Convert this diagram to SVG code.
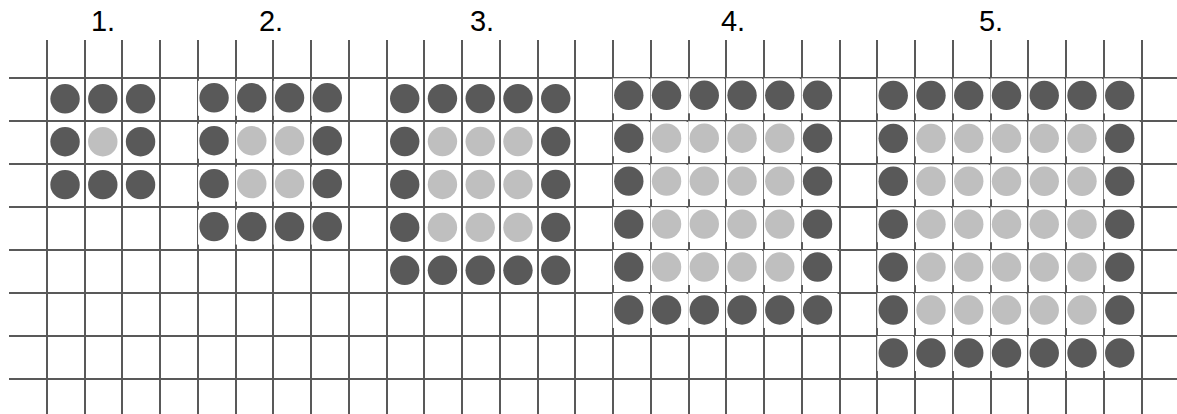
<svg xmlns="http://www.w3.org/2000/svg" xmlns:xlink="http://www.w3.org/1999/xlink" width="1177" height="414" viewBox="0 0 1177 414">
<style>
.grid{stroke:#595959;stroke-width:2;fill:none}
.lbl{font-family:"Liberation Sans",Arial,sans-serif;font-size:29px;fill:#000;text-anchor:middle}
.d{fill:#595959}
.l{fill:#bfbfbf}
.bg{fill:#fff}
</style>
<defs>
<circle id="dk" class="d" r="14.7"/>
<circle id="lt" class="l" r="14.7"/>
<rect id="wb" class="bg" x="-16" y="-17" width="36" height="35"/>
</defs>
<rect width="1177" height="414" fill="#fff"/>
<g id="labels">
<text class="lbl" x="103" y="31">1.</text>
<text class="lbl" x="271" y="31">2.</text>
<text class="lbl" x="482" y="31">3.</text>
<text class="lbl" x="733" y="31">4.</text>
<text class="lbl" x="991" y="31">5.</text>
</g>
<g id="grid">
<path class="grid" d="M47 40V414M85 40V414M122 40V414M160 40V414M198 40V414M236 40V414M273 40V414M311 40V414M349 40V414M387 40V414M424 40V414M462 40V414M500 40V414M538 40V414M575 40V414M613 40V414M651 40V414M689 40V414M726 40V414M764 40V414M802 40V414M840 40V414M877 40V414M915 40V414M953 40V414M991 40V414M1028 40V414M1066 40V414M1104 40V414M1142 40V414"/>
<path class="grid" d="M9 78H1177M9 121H1177M9 164H1177M9 207H1177M9 250H1177M9 293H1177M9 336H1177M9 379H1177"/>
</g>
<g id="fig1" transform="translate(65.05 98.8)">
<use href="#dk" x="0" y="0"/><use href="#dk" x="37.75" y="0"/><use href="#dk" x="75.5" y="0"/>
<use href="#dk" x="0" y="42.93"/><use href="#lt" x="37.75" y="42.93"/><use href="#dk" x="75.5" y="42.93"/>
<use href="#dk" x="0" y="85.86"/><use href="#dk" x="37.75" y="85.86"/><use href="#dk" x="75.5" y="85.86"/>
</g>
<g id="fig2" transform="translate(214.05 97.8)">
<g>
<use href="#wb" x="0" y="0"/><use href="#wb" x="37.75" y="0"/><use href="#wb" x="75.5" y="0"/><use href="#wb" x="113.25" y="0"/>
<use href="#wb" x="0" y="42.93"/><use href="#wb" x="37.75" y="42.93"/><use href="#wb" x="75.5" y="42.93"/><use href="#wb" x="113.25" y="42.93"/>
<use href="#wb" x="0" y="85.86"/><use href="#wb" x="37.75" y="85.86"/><use href="#wb" x="75.5" y="85.86"/><use href="#wb" x="113.25" y="85.86"/>
<use href="#wb" x="0" y="128.79"/><use href="#wb" x="37.75" y="128.79"/><use href="#wb" x="75.5" y="128.79"/><use href="#wb" x="113.25" y="128.79"/>
</g>
<use href="#dk" x="0" y="0"/><use href="#dk" x="37.75" y="0"/><use href="#dk" x="75.5" y="0"/><use href="#dk" x="113.25" y="0"/>
<use href="#dk" x="0" y="42.93"/><use href="#lt" x="37.75" y="42.93"/><use href="#lt" x="75.5" y="42.93"/><use href="#dk" x="113.25" y="42.93"/>
<use href="#dk" x="0" y="85.86"/><use href="#lt" x="37.75" y="85.86"/><use href="#lt" x="75.5" y="85.86"/><use href="#dk" x="113.25" y="85.86"/>
<use href="#dk" x="0" y="128.79"/><use href="#dk" x="37.75" y="128.79"/><use href="#dk" x="75.5" y="128.79"/><use href="#dk" x="113.25" y="128.79"/>
</g>
<g id="fig3" transform="translate(404.7 98.6)">
<use href="#dk" x="0" y="0"/><use href="#dk" x="37.75" y="0"/><use href="#dk" x="75.5" y="0"/><use href="#dk" x="113.25" y="0"/><use href="#dk" x="151" y="0"/>
<use href="#dk" x="0" y="42.93"/><use href="#lt" x="37.75" y="42.93"/><use href="#lt" x="75.5" y="42.93"/><use href="#lt" x="113.25" y="42.93"/><use href="#dk" x="151" y="42.93"/>
<use href="#dk" x="0" y="85.86"/><use href="#lt" x="37.75" y="85.86"/><use href="#lt" x="75.5" y="85.86"/><use href="#lt" x="113.25" y="85.86"/><use href="#dk" x="151" y="85.86"/>
<use href="#dk" x="0" y="128.79"/><use href="#lt" x="37.75" y="128.79"/><use href="#lt" x="75.5" y="128.79"/><use href="#lt" x="113.25" y="128.79"/><use href="#dk" x="151" y="128.79"/>
<use href="#dk" x="0" y="171.72"/><use href="#dk" x="37.75" y="171.72"/><use href="#dk" x="75.5" y="171.72"/><use href="#dk" x="113.25" y="171.72"/><use href="#dk" x="151" y="171.72"/>
</g>
<g id="fig4" transform="translate(628.8 95.3)">
<g>
<use href="#wb" x="0" y="0"/><use href="#wb" x="37.75" y="0"/><use href="#wb" x="75.5" y="0"/><use href="#wb" x="113.25" y="0"/><use href="#wb" x="151" y="0"/><use href="#wb" x="188.75" y="0"/>
<use href="#wb" x="0" y="42.93"/><use href="#wb" x="37.75" y="42.93"/><use href="#wb" x="75.5" y="42.93"/><use href="#wb" x="113.25" y="42.93"/><use href="#wb" x="151" y="42.93"/><use href="#wb" x="188.75" y="42.93"/>
<use href="#wb" x="0" y="85.86"/><use href="#wb" x="37.75" y="85.86"/><use href="#wb" x="75.5" y="85.86"/><use href="#wb" x="113.25" y="85.86"/><use href="#wb" x="151" y="85.86"/><use href="#wb" x="188.75" y="85.86"/>
<use href="#wb" x="0" y="128.79"/><use href="#wb" x="37.75" y="128.79"/><use href="#wb" x="75.5" y="128.79"/><use href="#wb" x="113.25" y="128.79"/><use href="#wb" x="151" y="128.79"/><use href="#wb" x="188.75" y="128.79"/>
<use href="#wb" x="0" y="171.72"/><use href="#wb" x="37.75" y="171.72"/><use href="#wb" x="75.5" y="171.72"/><use href="#wb" x="113.25" y="171.72"/><use href="#wb" x="151" y="171.72"/><use href="#wb" x="188.75" y="171.72"/>
<use href="#wb" x="0" y="214.65"/><use href="#wb" x="37.75" y="214.65"/><use href="#wb" x="75.5" y="214.65"/><use href="#wb" x="113.25" y="214.65"/><use href="#wb" x="151" y="214.65"/><use href="#wb" x="188.75" y="214.65"/>
</g>
<use href="#dk" x="0" y="0"/><use href="#dk" x="37.75" y="0"/><use href="#dk" x="75.5" y="0"/><use href="#dk" x="113.25" y="0"/><use href="#dk" x="151" y="0"/><use href="#dk" x="188.75" y="0"/>
<use href="#dk" x="0" y="42.93"/><use href="#lt" x="37.75" y="42.93"/><use href="#lt" x="75.5" y="42.93"/><use href="#lt" x="113.25" y="42.93"/><use href="#lt" x="151" y="42.93"/><use href="#dk" x="188.75" y="42.93"/>
<use href="#dk" x="0" y="85.86"/><use href="#lt" x="37.75" y="85.86"/><use href="#lt" x="75.5" y="85.86"/><use href="#lt" x="113.25" y="85.86"/><use href="#lt" x="151" y="85.86"/><use href="#dk" x="188.75" y="85.86"/>
<use href="#dk" x="0" y="128.79"/><use href="#lt" x="37.75" y="128.79"/><use href="#lt" x="75.5" y="128.79"/><use href="#lt" x="113.25" y="128.79"/><use href="#lt" x="151" y="128.79"/><use href="#dk" x="188.75" y="128.79"/>
<use href="#dk" x="0" y="171.72"/><use href="#lt" x="37.75" y="171.72"/><use href="#lt" x="75.5" y="171.72"/><use href="#lt" x="113.25" y="171.72"/><use href="#lt" x="151" y="171.72"/><use href="#dk" x="188.75" y="171.72"/>
<use href="#dk" x="0" y="214.65"/><use href="#dk" x="37.75" y="214.65"/><use href="#dk" x="75.5" y="214.65"/><use href="#dk" x="113.25" y="214.65"/><use href="#dk" x="151" y="214.65"/><use href="#dk" x="188.75" y="214.65"/>
</g>
<g id="fig5" transform="translate(893.25 95.4)">
<g>
<use href="#wb" x="0" y="0"/><use href="#wb" x="37.75" y="0"/><use href="#wb" x="75.5" y="0"/><use href="#wb" x="113.25" y="0"/><use href="#wb" x="151" y="0"/><use href="#wb" x="188.75" y="0"/><use href="#wb" x="226.5" y="0"/>
<use href="#wb" x="0" y="42.93"/><use href="#wb" x="37.75" y="42.93"/><use href="#wb" x="75.5" y="42.93"/><use href="#wb" x="113.25" y="42.93"/><use href="#wb" x="151" y="42.93"/><use href="#wb" x="188.75" y="42.93"/><use href="#wb" x="226.5" y="42.93"/>
<use href="#wb" x="0" y="85.86"/><use href="#wb" x="37.75" y="85.86"/><use href="#wb" x="75.5" y="85.86"/><use href="#wb" x="113.25" y="85.86"/><use href="#wb" x="151" y="85.86"/><use href="#wb" x="188.75" y="85.86"/><use href="#wb" x="226.5" y="85.86"/>
<use href="#wb" x="0" y="128.79"/><use href="#wb" x="37.75" y="128.79"/><use href="#wb" x="75.5" y="128.79"/><use href="#wb" x="113.25" y="128.79"/><use href="#wb" x="151" y="128.79"/><use href="#wb" x="188.75" y="128.79"/><use href="#wb" x="226.5" y="128.79"/>
<use href="#wb" x="0" y="171.72"/><use href="#wb" x="37.75" y="171.72"/><use href="#wb" x="75.5" y="171.72"/><use href="#wb" x="113.25" y="171.72"/><use href="#wb" x="151" y="171.72"/><use href="#wb" x="188.75" y="171.72"/><use href="#wb" x="226.5" y="171.72"/>
<use href="#wb" x="0" y="214.65"/><use href="#wb" x="37.75" y="214.65"/><use href="#wb" x="75.5" y="214.65"/><use href="#wb" x="113.25" y="214.65"/><use href="#wb" x="151" y="214.65"/><use href="#wb" x="188.75" y="214.65"/><use href="#wb" x="226.5" y="214.65"/>
<use href="#wb" x="0" y="257.58"/><use href="#wb" x="37.75" y="257.58"/><use href="#wb" x="75.5" y="257.58"/><use href="#wb" x="113.25" y="257.58"/><use href="#wb" x="151" y="257.58"/><use href="#wb" x="188.75" y="257.58"/><use href="#wb" x="226.5" y="257.58"/>
</g>
<use href="#dk" x="0" y="0"/><use href="#dk" x="37.75" y="0"/><use href="#dk" x="75.5" y="0"/><use href="#dk" x="113.25" y="0"/><use href="#dk" x="151" y="0"/><use href="#dk" x="188.75" y="0"/><use href="#dk" x="226.5" y="0"/>
<use href="#dk" x="0" y="42.93"/><use href="#lt" x="37.75" y="42.93"/><use href="#lt" x="75.5" y="42.93"/><use href="#lt" x="113.25" y="42.93"/><use href="#lt" x="151" y="42.93"/><use href="#lt" x="188.75" y="42.93"/><use href="#dk" x="226.5" y="42.93"/>
<use href="#dk" x="0" y="85.86"/><use href="#lt" x="37.75" y="85.86"/><use href="#lt" x="75.5" y="85.86"/><use href="#lt" x="113.25" y="85.86"/><use href="#lt" x="151" y="85.86"/><use href="#lt" x="188.75" y="85.86"/><use href="#dk" x="226.5" y="85.86"/>
<use href="#dk" x="0" y="128.79"/><use href="#lt" x="37.75" y="128.79"/><use href="#lt" x="75.5" y="128.79"/><use href="#lt" x="113.25" y="128.79"/><use href="#lt" x="151" y="128.79"/><use href="#lt" x="188.75" y="128.79"/><use href="#dk" x="226.5" y="128.79"/>
<use href="#dk" x="0" y="171.72"/><use href="#lt" x="37.75" y="171.72"/><use href="#lt" x="75.5" y="171.72"/><use href="#lt" x="113.25" y="171.72"/><use href="#lt" x="151" y="171.72"/><use href="#lt" x="188.75" y="171.72"/><use href="#dk" x="226.5" y="171.72"/>
<use href="#dk" x="0" y="214.65"/><use href="#lt" x="37.75" y="214.65"/><use href="#lt" x="75.5" y="214.65"/><use href="#lt" x="113.25" y="214.65"/><use href="#lt" x="151" y="214.65"/><use href="#lt" x="188.75" y="214.65"/><use href="#dk" x="226.5" y="214.65"/>
<use href="#dk" x="0" y="257.58"/><use href="#dk" x="37.75" y="257.58"/><use href="#dk" x="75.5" y="257.58"/><use href="#dk" x="113.25" y="257.58"/><use href="#dk" x="151" y="257.58"/><use href="#dk" x="188.75" y="257.58"/><use href="#dk" x="226.5" y="257.58"/>
</g>
</svg>
